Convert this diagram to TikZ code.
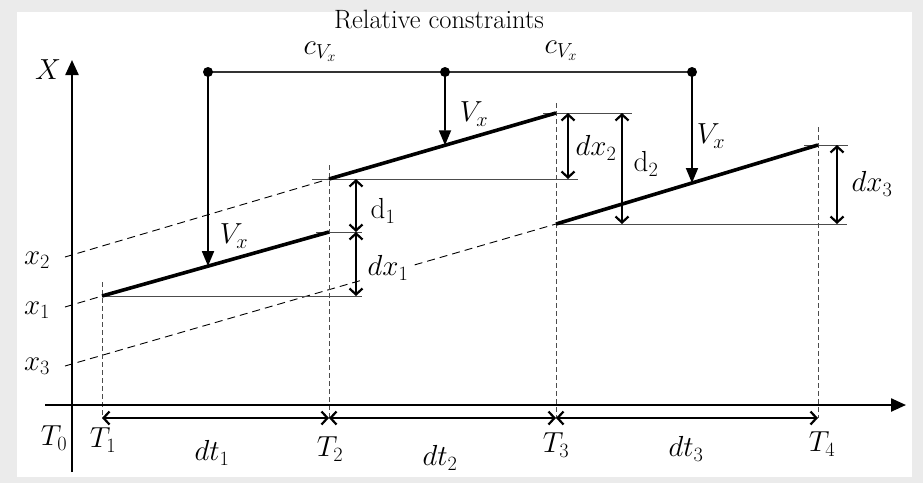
\RequirePackage{fix-cm}
\documentclass[tikz,border=0pt]{standalone}
\usepackage{amsmath}
\usepackage{xcolor}
\usepackage{tikz}
\usetikzlibrary{arrows.meta,calc}

\begin{document}
\begin{tikzpicture}[
            x=1pt, y=-1pt,
            >=Stealth,
            axis_line/.style={line width=2.4pt, -{Triangle[length=15pt, width=13pt]}},
            seg_line/.style={line width=3.6pt},
            ref_line/.style={line width=0.9pt, color=black!70},
            ext_line/.style={line width=0.9pt, dash pattern=on 8pt off 5pt},
            time_line/.style={line width=0.7pt, color=black!70, dash pattern=on 5pt off 3pt},
            dim_arrow/.style={line width=2.2pt, {Straight Barb[length=6pt, width=13pt]}-{Straight Barb[length=6pt, width=13pt]}},
            vel_arrow/.style={line width=1.8pt, -{Triangle[length=15pt, width=12pt]}},
            joint/.style={circle, fill=black, inner sep=0pt, minimum size=10pt},
            label_node/.style={font=\fontsize{29}{33}\selectfont, inner sep=0pt},
            title_node/.style={font=\fontsize{26.5}{30}\selectfont, inner sep=0pt}
        ]

        % Page frame
        \useasboundingbox (0,0) rectangle (923,483);
        \fill[black!8] (0,0) rectangle (923,483);
        \fill[white] (17,12) rectangle (912,477);

        % Define coordinates for the axes
        \coordinate (Ybot) at (72,472);
        \coordinate (Ytop) at (72,60);
        \coordinate (Xleft) at (45,405);
        \coordinate (Xright) at (906,405);

        % Time instants
        \coordinate (T1) at (102,418);
        \coordinate (T2) at (329,418);
        \coordinate (T3) at (556,418);
        \coordinate (T4) at (818,418);

        % Segment end points
        \coordinate (A1) at (102,296);
        \coordinate (B1) at (329,232);
        \coordinate (A2) at (329,179);
        \coordinate (B2) at (556,113);
        \coordinate (A3) at (556,224);
        \coordinate (B3) at (818,145);

        % Constraint joints
        \coordinate (D1) at (208,72);
        \coordinate (D2) at (445,72);
        \coordinate (D3) at (692,72);
        \coordinate (V1) at ($(A1)!0.467!(B1)$);
        \coordinate (V2) at ($(A2)!0.511!(B2)$);
        \coordinate (V3) at ($(A3)!0.519!(B3)$);

        % Dashed extensions back to the X axis
        \coordinate (E1) at (65,307);
        \coordinate (E2) at (65,257);
        \coordinate (E3) at (65,366);
        \draw[ext_line] (E1) -- (A1);
        \draw[ext_line] (E2) -- (A2);
        \draw[ext_line] (E3) -- (A3);

        % Vertical time markers
        \draw[time_line] (102,282) -- (T1);
        \draw[time_line] (329,165) -- (T2);
        \draw[time_line] (556,103) -- (T3);
        \draw[time_line] (818,127) -- (T4);

        % Horizontal reference lines
        \coordinate (H1) at (362,296);
        \coordinate (H1b) at (316,232);
        \coordinate (H1c) at (362,232);
        \coordinate (H2a) at (312,179);
        \coordinate (H2) at (578,179);
        \coordinate (H2b) at (543,113);
        \coordinate (H2c) at (632,113);
        \coordinate (H3) at (847,224);
        \coordinate (H3b) at (804,145);
        \coordinate (H3c) at (848,145);
        \draw[ref_line] (A1) -- (H1);
        \draw[ref_line] (H1b) -- (H1c);
        \draw[ref_line] (H2a) -- (H2);
        \draw[ref_line] (H2b) -- (H2c);
        \draw[ref_line] (A3) -- (H3);
        \draw[ref_line] (H3b) -- (H3c);

        % Label that hides the dashed line
        \node[label_node, fill=white, inner xsep=4pt, inner ysep=2pt] (lab_dx1) at (388,268) {$dx_1$};

        % Trajectory segments
        \draw[seg_line] (A1) -- (B1);
        \draw[seg_line] (A2) -- (B2);
        \draw[seg_line] (A3) -- (B3);

        % Gaps and displacements
        \draw[dim_arrow] (356,179) -- (356,232);
        \draw[dim_arrow] (356,232) -- (356,296);
        \draw[dim_arrow] (568,113) -- (568,179);
        \draw[dim_arrow] (622,113) -- (622,224);
        \draw[dim_arrow] (837,145) -- (837,224);
        \node[label_node] (lab_d1) at (383,211) {$\mathrm{d}_1$};
        \node[label_node] (lab_dx2) at (596,148) {$dx_2$};
        \node[label_node] (lab_d2) at (646,164) {$\mathrm{d}_2$};
        \node[label_node] (lab_dx3) at (872,184) {$dx_3$};

        % Relative constraints
        \draw[line width=1.1pt, black!80] (D1) -- (D2) -- (D3);
        \draw[vel_arrow] (D1) -- (V1);
        \draw[vel_arrow] (D2) -- (V2);
        \draw[vel_arrow] (D3) -- (V3);
        \node[joint] (J1) at (D1) {};
        \node[joint] (J2) at (D2) {};
        \node[joint] (J3) at (D3) {};
        \node[label_node] (lab_V1) at (234,236) {$V_x$};
        \node[label_node] (lab_V2) at (474,114) {$V_x$};
        \node[label_node] (lab_V3) at (711,136) {$V_x$};
        \node[label_node] (lab_c1) at (320,52) {$c_{V_x}$};
        \node[label_node] (lab_c2) at (561,51) {$c_{V_x}$};
        \node[title_node] (title) at (439,20) {Relative constraints};

        % Axes
        \draw[axis_line] (Ybot) -- (Ytop);
        \draw[axis_line] (Xleft) -- (Xright);
        \node[label_node] (lab_X) at (48,70) {$X$};
        \node[label_node] (lab_x2) at (37,260) {$x_2$};
        \node[label_node] (lab_x1) at (37,310) {$x_1$};
        \node[label_node] (lab_x3) at (37,366) {$x_3$};

        % Time intervals
        \draw[dim_arrow] (T1) -- (T2);
        \draw[dim_arrow] (T2) -- (T3);
        \draw[dim_arrow] (T3) -- (T4);
        \node[label_node] (lab_T0) at (54,438) {$T_0$};
        \node[label_node] (lab_T1) at (103,440) {$T_1$};
        \node[label_node] (lab_T2) at (330,449) {$T_2$};
        \node[label_node] (lab_T3) at (556,445) {$T_3$};
        \node[label_node] (lab_T4) at (822,444) {$T_4$};
        \node[label_node] (lab_dt1) at (212,453) {$dt_1$};
        \node[label_node] (lab_dt2) at (440,458) {$dt_2$};
        \node[label_node] (lab_dt3) at (686,449) {$dt_3$};

    \end{tikzpicture}
\end{document}
